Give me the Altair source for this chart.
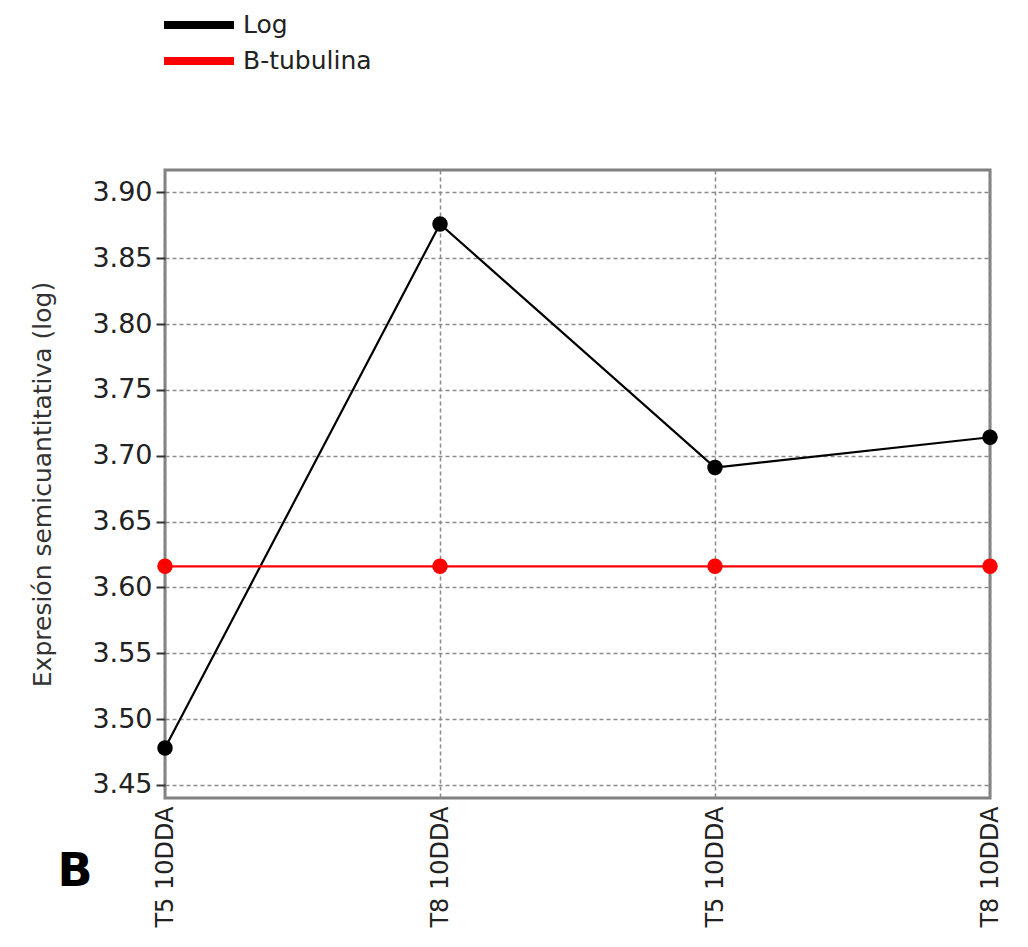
import json
import altair as alt
import pandas as pd

x_labels = ["T5 10DDA", "T8 10DDA", "T5 10DDA", "T8 10DDA"]
x_index = [0, 1, 2, 3]
series_names = ["Log", "B-tubulina"]
log_values = [3.478, 3.876, 3.691, 3.714]
tub_values = [3.616, 3.616, 3.616, 3.616]
y_ticks = [3.45, 3.50, 3.55, 3.60, 3.65, 3.70, 3.75, 3.80, 3.85, 3.90]
series_colors = ["#000000", "#ff0000"]

rows = []
for i, v in zip(x_index, log_values):
    rows.append({"idx": i, "serie": "Log", "valor": v})
for i, v in zip(x_index, tub_values):
    rows.append({"idx": i, "serie": "B-tubulina", "valor": v})
df = pd.DataFrame(rows)

FONT = "DejaVu Sans"
label_expr = json.dumps(x_labels) + "[datum.value]"

x_enc = alt.X("idx:Q",
              scale=alt.Scale(domain=[0, 3], nice=False, zero=False),
              axis=alt.Axis(values=x_index, labelExpr=label_expr, labelAngle=270,
                            title=None, ticks=False, domain=False,
                            labelPadding=8, labelFontSize=24, labelColor="#222222",
                            labelFont=FONT, grid=True, gridColor="#8a8a8a",
                            gridDash=[4, 3], gridWidth=1.5))
y_enc = alt.Y("valor:Q",
              scale=alt.Scale(domain=[3.44, 3.917], nice=False, zero=False),
              axis=alt.Axis(values=y_ticks, format=".2f",
                            title="Expresión semicuantitativa (log)",
                            titleFontSize=25, titleFont=FONT, titleFontWeight="normal",
                            titleColor="#333333", titlePadding=36,
                            labelFontSize=27, labelFont=FONT, labelColor="#222222",
                            labelPadding=4, tickSize=9, tickColor="#333333", tickWidth=2,
                            domain=False, grid=True, gridColor="#8a8a8a",
                            gridDash=[4, 3], gridWidth=1.5))
color_enc = alt.Color("serie:N",
                      scale=alt.Scale(domain=series_names, range=series_colors),
                      sort=series_names,
                      legend=alt.Legend(title=None, orient="none", legendX=18, legendY=-161,
                                        symbolType="M-3,0H3", symbolSize=544,
                                        symbolStrokeWidth=8, symbolOffset=0,
                                        rowPadding=4, labelOffset=28,
                                        labelFontSize=25, labelFont=FONT,
                                        labelColor="#222222"))

base = alt.Chart(df).encode(x=x_enc, y=y_enc, color=color_enc)
lines = base.mark_line(strokeWidth=2.2)
points = base.mark_point(filled=True, size=240, opacity=1)

b_df = pd.DataFrame({"t": ["B"]})
b_text = alt.Chart(b_df).mark_text(fontSize=46, fontWeight="bold", font=FONT,
                                   color="#000000", align="center", baseline="middle").encode(
    text="t:N", x=alt.value(-90), y=alt.value(702))

chart = alt.layer(lines, points, b_text).properties(
    width=825, height=628,
    padding={"left": 157, "top": 162, "right": 30, "bottom": 140},
    autosize=alt.AutoSizeParams(type="none"),
).configure_view(stroke="#808080", strokeWidth=3)

chart.save("out.html", embed_options={"renderer": "svg", "actions": False})
